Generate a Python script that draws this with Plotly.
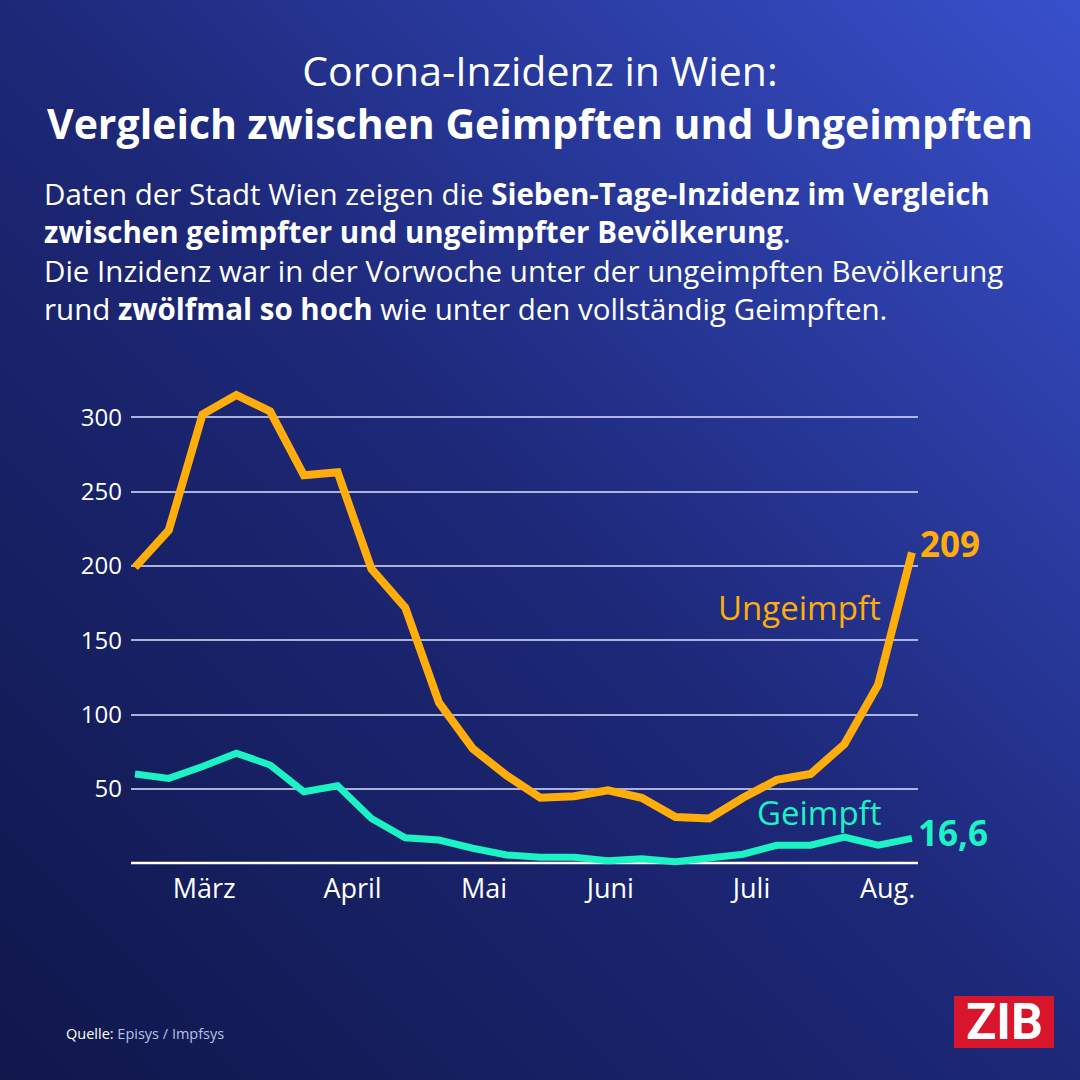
import base64
import plotly.graph_objects as go

# weekly 7-day incidence, Vienna
weeks = list(range(24))
ungeimpft = [199, 224, 302, 315, 304, 261, 263, 198, 172, 108, 77, 59,
             44, 45, 49, 44, 31, 30, 44, 56, 60, 80, 120, 209]
geimpft = [60, 57, 65, 74, 66, 48, 52, 30, 17, 15.5, 10, 5.5,
           4, 4, 1.6, 3, 1, 4, 6, 12, 12, 17.5, 12, 16.6]

month_pos = [2.05, 6.44, 10.33, 14.07, 18.25, 22.28]
month_labels = ['März', 'April', 'Mai', 'Juni', 'Juli', 'Aug.']
y_ticks = [50, 100, 150, 200, 250, 300]

title_lines = ['Corona-Inzidenz in Wien:',
               '<b>Vergleich zwischen Geimpften und Ungeimpften</b>']
body_lines = [
    'Daten der Stadt Wien zeigen die <b>Sieben-Tage-Inzidenz im Vergleich</b>',
    '<b>zwischen geimpfter und ungeimpfter Bevölkerung</b>.',
    'Die Inzidenz war in der Vorwoche unter der ungeimpften Bevölkerung',
    'rund <b>zwölfmal so hoch</b> wie unter den vollständig Geimpften.',
]

ORANGE = '#ffad0a'
TEAL = '#1cf2c4'
FONT = 'Open Sans'
W = H = 1080

def px(x):
    return x / W

def py(y):
    return 1 - y / H

#background gradient as svg image
svg = ('<svg xmlns="http://www.w3.org/2000/svg" width="1080" height="1080">'
       '<defs><linearGradient id="g" x1="0" y1="1" x2="1" y2="0">'
       '<stop offset="0" stop-color="#10174b"/>'
       '<stop offset="0.5" stop-color="#1d2878"/>'
       '<stop offset="1" stop-color="#3850cc"/>'
       '</linearGradient></defs>'
       '<rect width="1080" height="1080" fill="url(#g)"/></svg>')
bg = 'data:image/svg+xml;base64,' + base64.b64encode(svg.encode()).decode()

fig = go.Figure()
fig.add_trace(go.Scatter(x=weeks, y=geimpft, mode='lines',
                         line=dict(color=TEAL, width=7), hoverinfo='skip'))
fig.add_trace(go.Scatter(x=weeks, y=ungeimpft, mode='lines',
                         line=dict(color=ORANGE, width=8), hoverinfo='skip'))

#baseline
fig.add_hline(y=0, line=dict(color='white', width=2.5), layer='below')

fig.update_layout(
    width=W, height=H,
    margin=dict(l=0, r=0, t=0, b=0),
    paper_bgcolor='#1d2878',
    plot_bgcolor='rgba(0,0,0,0)',
    showlegend=False,
    font=dict(family=FONT, color='white'),
    images=[dict(source=bg, xref='paper', yref='paper', x=0, y=1,
                 sizex=1, sizey=1, sizing='stretch', layer='below')],
    xaxis=dict(domain=[px(131), px(918)], range=[-0.118, 23.18],
               showgrid=False, zeroline=False, showline=False,
               tickmode='array', tickvals=month_pos, ticktext=month_labels,
               tickfont=dict(size=27, color='white'), ticks='',
               ticklabelstandoff=4),
    yaxis=dict(domain=[py(866), py(380)], range=[-1.95, 325.1],
               showgrid=True, gridcolor='rgba(220,225,255,0.75)', gridwidth=1.5,
               zeroline=False, showline=False,
               tickmode='array', tickvals=y_ticks,
               tickfont=dict(size=24, color='white'), ticks='',
               ticklabelstandoff=8),
)

annots = [
    #title, two lines
    dict(x=0.5, y=py(97), xref='paper', yref='paper', showarrow=False,
         text='<br>'.join(title_lines), align='center',
         font=dict(size=41, color='white'), xanchor='center', yanchor='middle'),
    #intro text
    dict(x=px(42), y=py(251), xref='paper', yref='paper', showarrow=False,
         text='<br>'.join(body_lines), align='left',
         xanchor='left', yanchor='middle', font=dict(size=29.5, color='white')),
    #series labels
    dict(x=px(883), y=py(607), xref='paper', yref='paper', showarrow=False,
         text='Ungeimpft', font=dict(size=33, color=ORANGE),
         xanchor='right', yanchor='middle'),
    dict(x=px(883), y=py(812), xref='paper', yref='paper', showarrow=False,
         text='Geimpft', font=dict(size=33, color=TEAL),
         xanchor='right', yanchor='middle'),
    #end values
    dict(x=weeks[-1], y=ungeimpft[-1], xref='x', yref='y', showarrow=False,
         text='<b>%d</b>' % ungeimpft[-1], font=dict(size=35, color=ORANGE),
         xanchor='left', yanchor='middle', xshift=6, yshift=9),
    dict(x=weeks[-1], y=geimpft[-1], xref='x', yref='y', showarrow=False,
         text='<b>%s</b>' % str(geimpft[-1]).replace('.', ','),
         font=dict(size=35, color=TEAL),
         xanchor='left', yanchor='middle', xshift=4, yshift=6),
    #source
    dict(x=px(64), y=py(1033), xref='paper', yref='paper', showarrow=False,
         text='Quelle: <span style="color:#b8c0e8">Episys / Impfsys</span>',
         font=dict(size=14.5, color='white'), xanchor='left', yanchor='middle'),
    #logo
    dict(x=px(1004), y=py(1022), xref='paper', yref='paper', showarrow=False,
         text='<b>ZIB</b>', font=dict(family='Roboto', size=50, color='white'),
         xanchor='center', yanchor='middle'),
]
fig.update_layout(annotations=annots)

fig.add_shape(type='rect', xref='paper', yref='paper',
              x0=px(954), x1=px(1054), y0=py(1048), y1=py(996),
              fillcolor='#d9152b', line=dict(width=0), layer='below')

#no page margin so the figure fills the window
fig.write_html('out.html', config={'displayModeBar': False},
               post_script="document.body.style.margin='0';"
               "document.body.style.overflow='hidden';")
